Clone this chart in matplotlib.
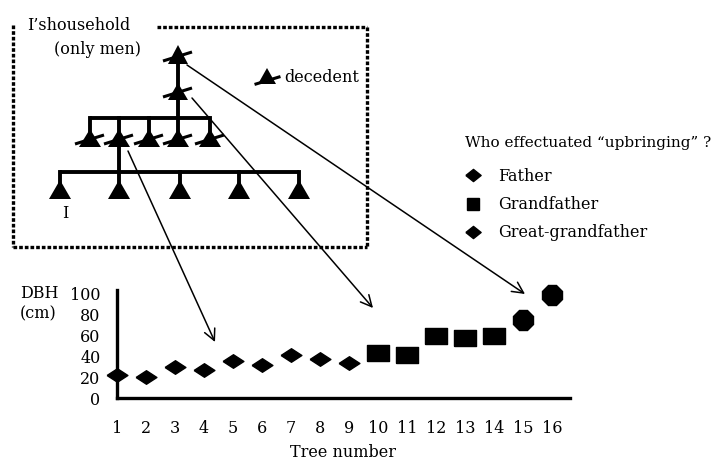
import matplotlib
matplotlib.use("Agg")
import matplotlib.pyplot as plt
from matplotlib.lines import Line2D
from matplotlib.path import Path

## DBH of the trees
trees = list(range(1, 17))
dbh = [22, 20, 30, 27, 35, 31, 41, 37, 33, 43, 41, 59, 57, 59, 74, 98]
who = ["Father"] * 9 + ["Grandfather"] * 5 + ["Great-grandfather"] * 2
legend_labels = ["Father", "Grandfather", "Great-grandfather"]
legend_title = "Who effectuated \u201cupbringing\u201d ?"
yticks = [0, 20, 40, 60, 80, 100]

plt.rcParams["font.family"] = ["DejaVu Serif"]
FS = 11.5

## flattened diamond and wide square like in the scan
diamond = Path([(-1, 0), (0, 0.65), (1, 0), (0, -0.65), (-1, 0)])
square = Path([(-1, -0.75), (1, -0.75), (1, 0.75), (-1, 0.75), (-1, -0.75)])
marks = {"Father": (diamond, 15), "Grandfather": (square, 16),
         "Great-grandfather": ("8", 16)}

fig = plt.figure(figsize=(7.26, 4.61), dpi=100)

## scatter of DBH
W, H = 726, 461
ax = fig.add_axes([117 / W, 1 - 398 / H, 453 / W, 108 / H])
ax.patch.set_visible(False)
for g in legend_labels:
    xs = [t for t, w in zip(trees, who) if w == g]
    ys = [d for d, w in zip(dbh, who) if w == g]
    m, s = marks[g]
    ax.plot(xs, ys, ls="none", marker=m, ms=s, color="black", clip_on=False, zorder=5)
ax.set_xlim(1, 1 + 453 / 29)
ax.set_ylim(0, 103)
ax.set_xticks(trees)
ax.set_yticks(yticks)
ax.tick_params(length=0, labelsize=FS)
ax.tick_params(axis="x", pad=16)
ax.tick_params(axis="y", pad=12)
for s in ["top", "right"]:
    ax.spines[s].set_visible(False)
for s in ["left", "bottom"]:
    ax.spines[s].set_linewidth(2.4)
ax.set_xlabel("Tree number", fontsize=FS, labelpad=5)
fig.text(20 / W, 1 - 294 / H, "DBH", fontsize=FS, va="center")
fig.text(20 / W, 1 - 314 / H, "(cm)", fontsize=FS, va="center")

## legend
small_diamond = Path([(-1, 0), (0, 0.8), (1, 0), (0, -0.8), (-1, 0)])
handles = [Line2D([], [], ls="none", marker=small_diamond, ms=11, color="black"),
           Line2D([], [], ls="none", marker="s", ms=8.5, color="black"),
           Line2D([], [], ls="none", marker=small_diamond, ms=11, color="black")]
leg = fig.legend(handles, legend_labels, title=legend_title, loc="upper left",
                 bbox_to_anchor=(465 / W, 1 - 136 / H), frameon=False,
                 fontsize=FS, title_fontsize=11, alignment="left",
                 handlelength=1.0, handletextpad=1.1, labelspacing=0.7,
                 borderpad=0, borderaxespad=0)
leg._legend_box.sep = 13

## household diagram, in pixel coordinates
ax0 = fig.add_axes([0, 0, 1, 1], zorder=3)
ax0.set_xlim(0, W)
ax0.set_ylim(H, 0)
ax0.axis("off")
ax0.patch.set_visible(False)

LW = 2.8

def person(cx, top, bottom, width, dead):
    ax0.fill([cx - width / 2, cx, cx + width / 2], [bottom, top, bottom], color="black", lw=0)
    if dead:
        ax0.plot([cx - 15, cx + 14], [bottom - 3, bottom - 12], color="black", lw=2.2, solid_capstyle="butt")

## great-grandfather and grandfather
ax0.plot([178, 178], [62, 118], color="black", lw=LW)
person(178, 45, 64, 20, True)
person(178, 83, 100, 20, True)
## fathers' generation
gen2 = [90, 119, 149, 178, 210]
ax0.plot([gen2[0], gen2[-1]], [118, 118], color="black", lw=LW, solid_capstyle="butt")
for x in gen2:
    ax0.plot([x, x], [118, 132], color="black", lw=LW)
    person(x, 129, 147, 22, True)
ax0.plot([119, 119], [145, 172], color="black", lw=LW)
## I's generation
gen3 = [60, 119, 180, 239, 299]
ax0.plot([gen3[0], gen3[-1]], [172, 172], color="black", lw=LW, solid_capstyle="butt")
for x in gen3:
    ax0.plot([x, x], [172, 184], color="black", lw=LW)
    person(x, 180, 199, 22, False)
ax0.text(65, 213, "I", fontsize=FS, ha="center", va="center")

## legend of the symbol
person(267, 68, 84, 18, False)
ax0.plot([256, 279], [84, 77], color="black", lw=2.2)
ax0.text(284, 78, "decedent", fontsize=FS, va="center")

## dotted frame
dots = dict(color="black", lw=2.4, ls=(0, (1.1, 0.6)), solid_capstyle="butt")
ax0.plot([157, 367], [27, 27], **dots)
ax0.plot([367, 367], [27, 247], **dots)
ax0.plot([13, 367], [247, 247], **dots)
ax0.plot([13, 13], [25, 247], **dots)
ax0.text(27, 25, "I\u2019shousehold", fontsize=FS, va="center")
ax0.text(141, 49, "(only men)", fontsize=FS, va="center", ha="right")

## arrows from the diagram to the trees
arrows = [((128, 151), (215, 342)), ((192, 98), (373, 308)), ((187, 65), (525, 294))]
for a, b in arrows:
    ax0.annotate("", xy=b, xytext=a,
                 arrowprops=dict(arrowstyle="->", color="black", lw=1.1,
                                 mutation_scale=20, shrinkA=0, shrinkB=0))

fig.savefig("out.png", dpi=100, facecolor="white")
